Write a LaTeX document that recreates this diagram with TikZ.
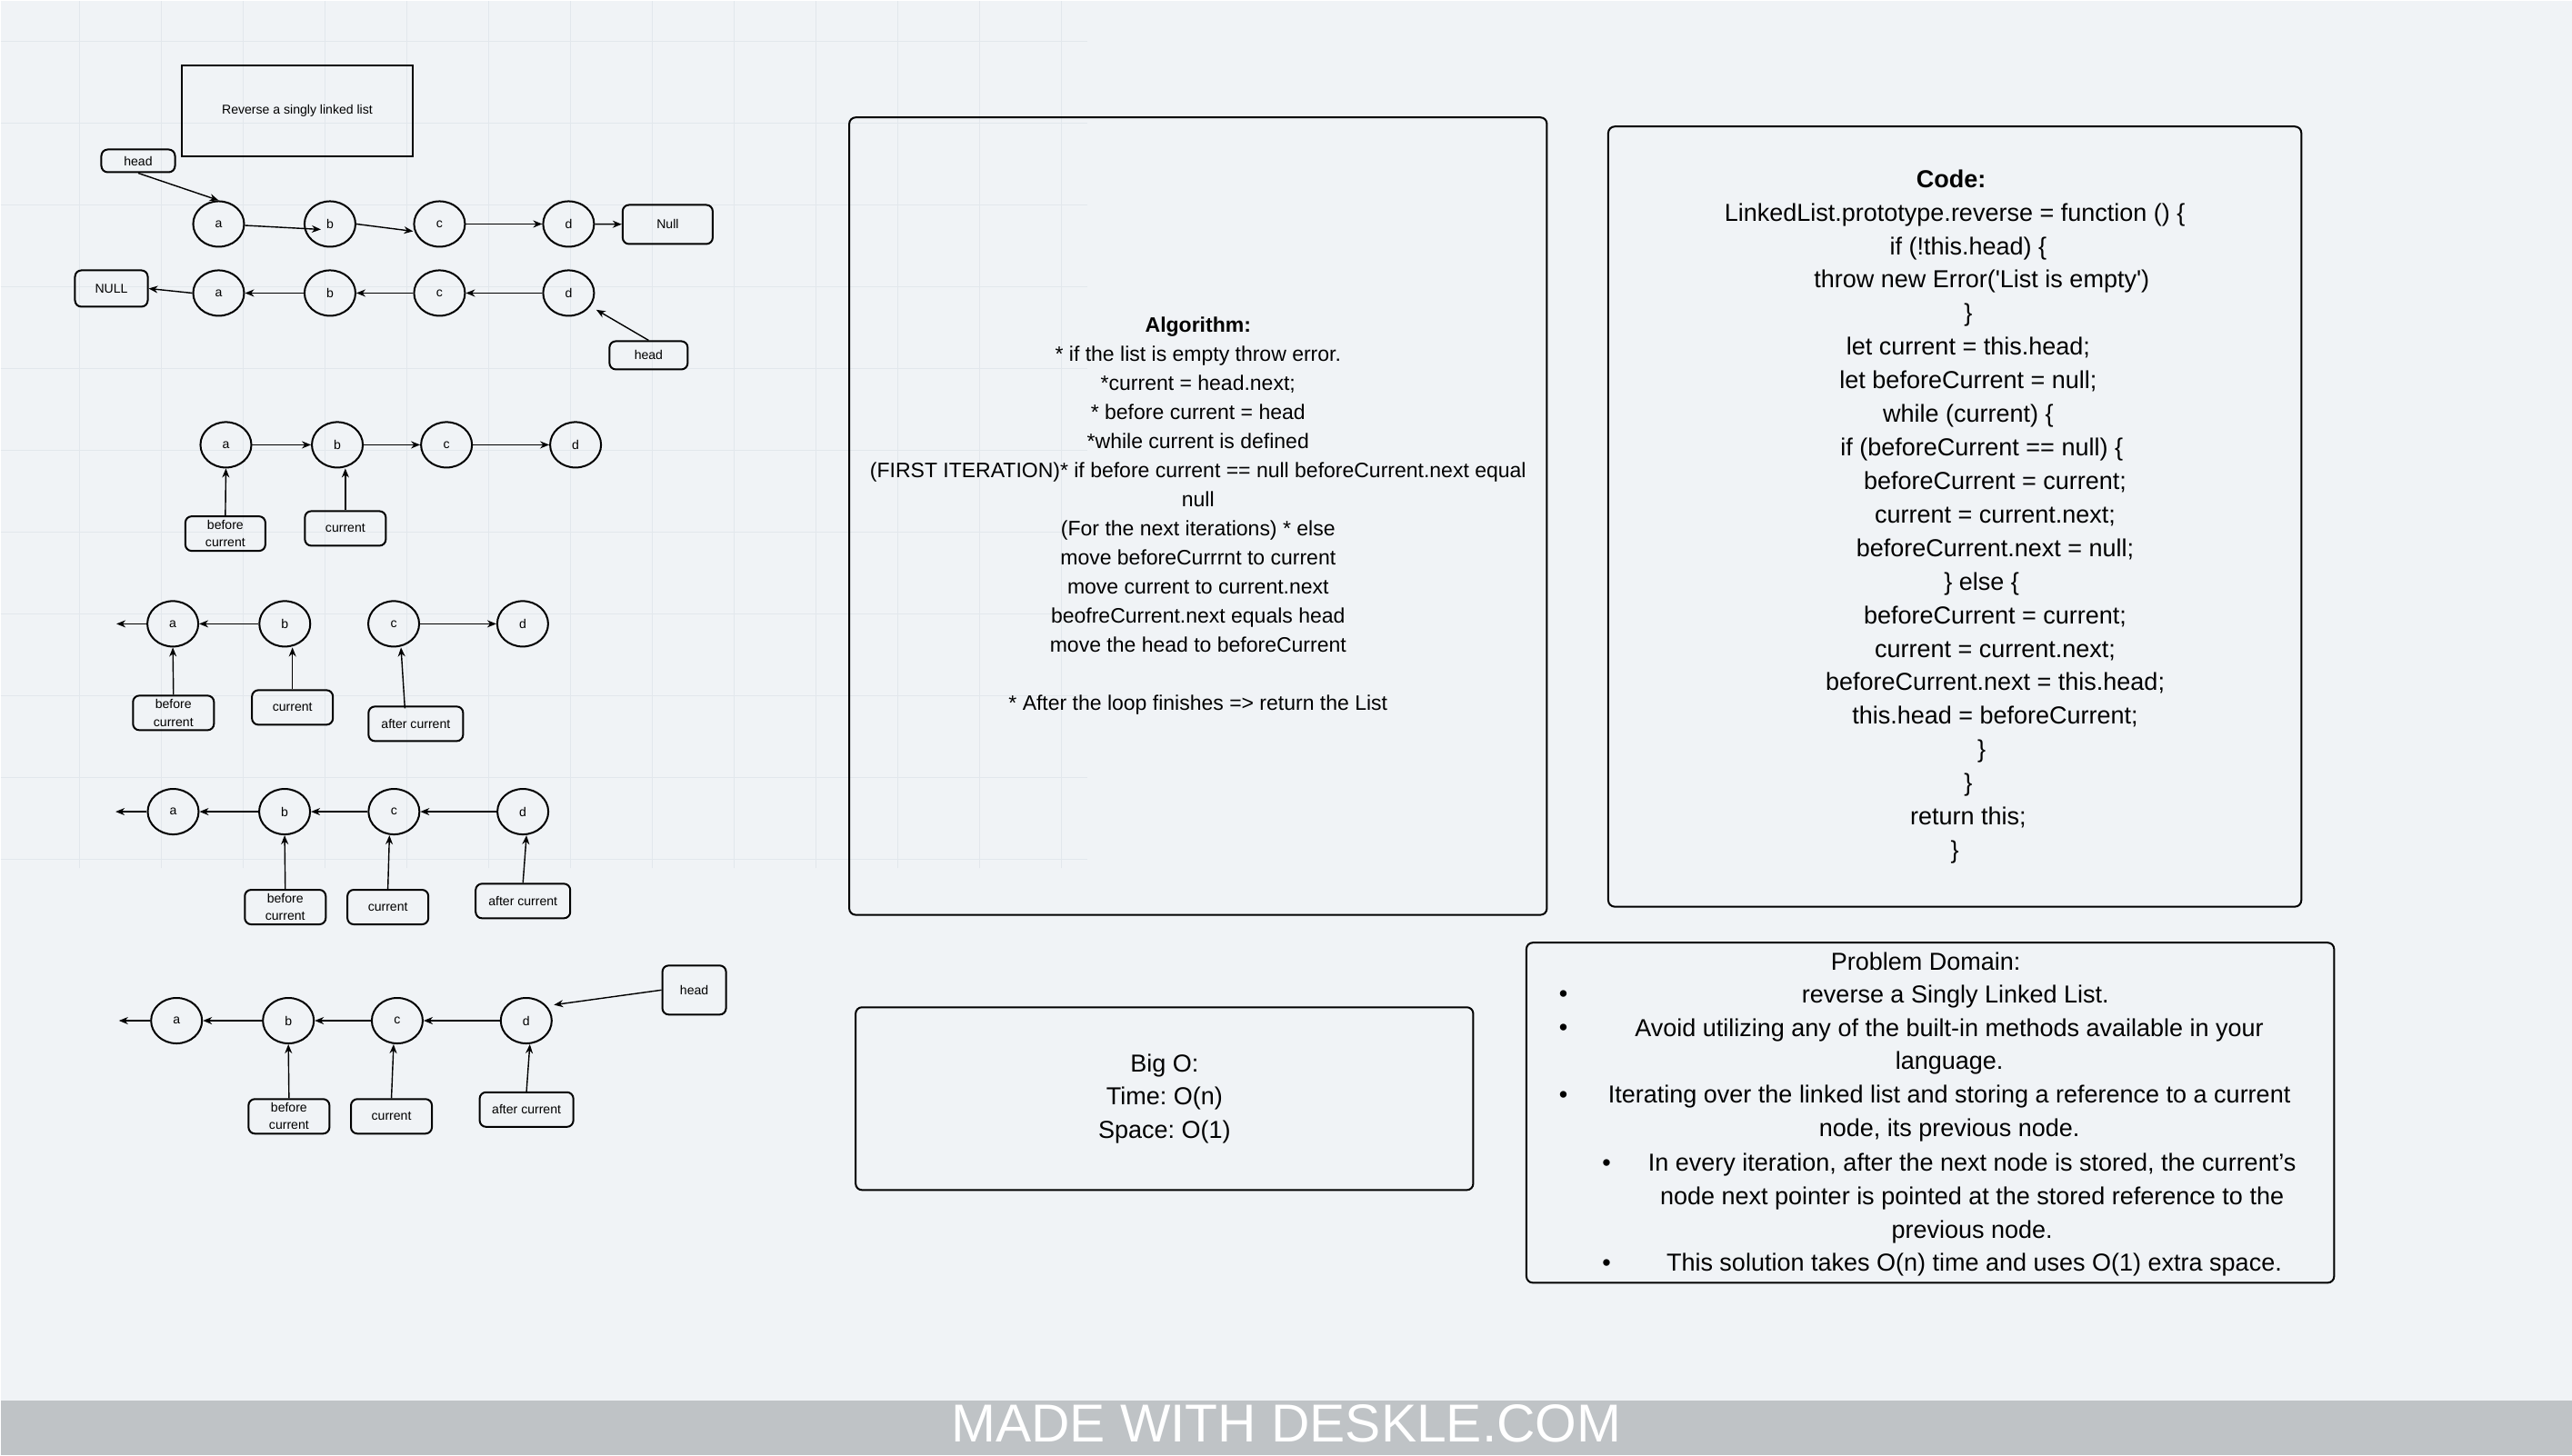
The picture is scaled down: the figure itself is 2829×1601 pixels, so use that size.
\documentclass[tikz,border=0pt]{standalone}
\usepackage{fontspec}
\setmainfont{Liberation Sans}
\setmonofont{Liberation Sans}
\usetikzlibrary{arrows.meta,shapes.geometric,calc}
\frenchspacing

\definecolor{paper}{RGB}{240,243,246}
\definecolor{gridline}{RGB}{226,231,236}
\definecolor{banner}{RGB}{191,195,198}
\newcommand\codeind[1]{\hspace*{#1\dimexpr 0.296cm\relax}}

\begin{document}
\begin{tikzpicture}[x=0.01cm,y=-0.01cm,
  listnode/.style={ellipse,draw,line width=0.57pt,minimum width=0.56cm,minimum height=0.5cm,inner sep=0pt,font=\fontsize{4pt}{5pt}\selectfont},
  ptr/.style={draw,rounded corners=0.07cm,line width=0.57pt,inner sep=0pt,align=center,minimum width=0.89cm,minimum height=0.38cm,font=\fontsize{4pt}{5.5pt}\selectfont},
  link/.style={line width=0.4pt,-{Stealth[length=0.1cm,width=0.08cm]}},
  panel/.style={draw,rounded corners=0.07cm,line width=0.57pt,inner sep=0pt,align=center},
  domtext/.style={align=center,inner sep=0pt,font=\fontsize{7.68pt}{10.45pt}\selectfont}]

% background and grid
\fill[paper] (0,0) rectangle (2829,1601);
\draw[gridline,line width=0.3pt,step=0.9cm,shift={(86.7,45)}] (-86.7,-45) grid (1109,910);
\fill[banner] (0,1541) rectangle (2829,1601);
\node[text=white,anchor=base,font=\fontsize{16.7pt}{20pt}\selectfont] (brand) at (1414.5,1586) {MADE WITH DESKLE.COM};

\node[draw,line width=0.57pt,minimum width=2.53cm,minimum height=0.99cm,font=\fontsize{4pt}{5pt}\selectfont] (title) at (326.5,121.5) {Reverse a singly linked list};

% original list
\node[ptr,minimum width=0.81cm,minimum height=0.25cm] (head1) at (151.5,176.5) {head};
\node[listnode] (a1) at (240,246) {a};
\node[listnode] (b1) at (362.5,246) {b};
\node[listnode] (c1) at (483,246) {c};
\node[listnode] (d1) at (625,246) {d};
\node[ptr,minimum width=0.99cm,minimum height=0.43cm] (nul1) at (734,246.5) {Null};

\draw[link] (head1.south) -- (a1.north);
\draw[link] (a1) -- ($(b1)+(-10,6)$);
\draw[link] (b1.east) -- ($(c1.west)+(0,8)$);
\draw[link] (c1) -- (d1);
\draw[link] (d1) -- (nul1);

% reversed list
\node[ptr,minimum width=0.8cm,minimum height=0.4cm] (nul2) at (122,317) {NULL};
\node[listnode] (a2) at (240,322) {a};
\node[listnode] (b2) at (362.5,322) {b};
\node[listnode] (c2) at (483,322) {c};
\node[listnode] (d2) at (625,322) {d};
\node[ptr,minimum width=0.86cm,minimum height=0.31cm] (head2) at (713,390.5) {head};

\draw[link] (d2) -- (c2);
\draw[link] (c2) -- (b2);
\draw[link] (b2) -- (a2);
\draw[link] (a2.west) -- (nul2.east);
\draw[link] (head2.north) -- ($(d2.south east)+(10,0)$);

% step 1
\node[listnode] (a3) at (248,489) {a};
\node[listnode] (b3) at (370.6,489) {b};
\node[listnode] (c3) at (490.7,489) {c};
\node[listnode] (d3) at (632.7,489) {d};
\node[ptr,minimum width=0.88cm] (bc3) at (247.4,586.7) {before\\current};
\node[ptr] (cur3) at (379.4,581) {current};

\draw[link] (a3) -- (b3);
\draw[link] (b3) -- (c3);
\draw[link] (c3) -- (d3);
\draw[link] (bc3.north) -- (a3.south);
\draw[link] (cur3.north) -- (cur3.north |- b3.south);

% step 2
\coordinate (end4) at (127.6,686);
\node[listnode] (a4) at (189.6,686) {a};
\node[listnode] (b4) at (312.8,686) {b};
\node[listnode] (c4) at (432.6,686) {c};
\node[listnode] (d4) at (574.5,686) {d};
\node[ptr] (bc4) at (190.3,784) {before\\current};
\node[ptr] (cur4) at (321.2,778) {current};
\node[ptr,minimum width=1.04cm] (ac4) at (456.9,796) {after current};

\draw[link] (b4) -- (a4);
\draw[link] (a4.west) -- (end4);
\draw[link] (c4) -- (d4);
\draw[link] (bc4.north) -- (a4.south);
\draw[link] (cur4.north) -- (cur4.north |- b4.south);
\draw[link] ($(ac4.north)+(-12,3)$) -- ($(c4.south)+(8,0)$);

% step 3
\coordinate (end5) at (126.6,892.7);
\node[listnode] (a5) at (190,892.7) {a};
\node[listnode] (b5) at (312.6,892.7) {b};
\node[listnode] (c5) at (432.9,892.7) {c};
\node[listnode] (d5) at (574.7,892.7) {d};
\node[ptr] (bc5) at (313.3,997.7) {before\\current};
\node[ptr] (cur5) at (426.2,997.7) {current};
\node[ptr,minimum width=1.04cm] (ac5) at (574.8,991) {after current};

\draw[link] (d5) -- (c5);
\draw[link] (c5) -- (b5);
\draw[link] (b5) -- (a5);
\draw[link] (a5.west) -- (end5);
\draw[link] (bc5.north) -- (b5.south);
\draw[link] (cur5.north) -- ($(c5.south)+(-5,0)$);
\draw[link] (ac5.north) -- ($(d5.south)+(4,0)$);

% last step
\coordinate (end6) at (130.3,1122.7);
\node[listnode] (a6) at (193.7,1122.7) {a};
\node[listnode] (b6) at (316.7,1122.7) {b};
\node[listnode] (c6) at (436.5,1122.7) {c};
\node[listnode] (d6) at (578.4,1122.7) {d};
\node[ptr] (bc6) at (317.4,1228) {before\\current};
\node[ptr] (cur6) at (430.1,1228) {current};
\node[ptr,minimum width=1.03cm] (ac6) at (578.7,1220.5) {after current};
\node[ptr,minimum width=0.7cm,minimum height=0.54cm] (head6) at (763.2,1089) {head};

\draw[link] (d6) -- (c6);
\draw[link] (c6) -- (b6);
\draw[link] (b6) -- (a6);
\draw[link] (a6.west) -- (end6);
\draw[link] (bc6.north) -- (b6.south);
\draw[link] (cur6.north) -- ($(c6.south)+(-4,0)$);
\draw[link] (ac6.north) -- ($(d6.south)+(4,0)$);
\draw[link] (head6.west) -- ($(d6.north east)+(10,1)$);

% text panels
\node[panel,minimum width=7.67cm,minimum height=8.77cm,font=\fontsize{6.54pt}{9.1pt}\selectfont] (algo) at (1317.5,567.5)
  {\textbf{Algorithm:}\\
   * if the list is empty throw error.\\
   *current = head.next;\\
   * before current = head\\
   *while current is defined\\
   (FIRST ITERATION)* if before current == null beforeCurrent.next equal\\
   null\\
   (For the next iterations) * else\\
   move beforeCurrrnt to current\\
   move current to current.next\\
   beofreCurrent.next equals head\\
   move the head to beforeCurrent\\[9.1pt]
   * After the loop finishes => return the List};

\node[panel,minimum width=7.62cm,minimum height=8.58cm,font=\ttfamily\fontsize{7.68pt}{10.5pt}\selectfont] (code) at (2150,568)
  {\hspace*{-0.08cm}\textbf{Code:}\\
   LinkedList.prototype.reverse = function () \{\\
   \codeind{1}if (!this.head) \{\\
   \codeind{2}throw new Error('List is empty')\\
   \codeind{1}\}\\
   \codeind{1}let current = this.head;\\
   \codeind{1}let beforeCurrent = null;\\
   \codeind{1}while (current) \{\\
   \codeind{2}if (beforeCurrent == null) \{\\
   \codeind{3}beforeCurrent = current;\\
   \codeind{3}current = current.next;\\
   \codeind{3}beforeCurrent.next = null;\\
   \codeind{2}\} else \{\\
   \codeind{3}beforeCurrent = current;\\
   \codeind{3}current = current.next;\\
   \codeind{3}beforeCurrent.next = this.head;\\
   \codeind{3}this.head = beforeCurrent;\\
   \codeind{2}\}\\
   \codeind{1}\}\\
   \codeind{1}return this;\\
   \}};

\node[panel,minimum width=6.79cm,minimum height=2.01cm,font=\fontsize{7.68pt}{10.45pt}\selectfont] (bigo) at (1280.5,1208.5)
  {Big O:\\Time: O(n)\\Space: O(1)};

\node[panel,minimum width=8.88cm,minimum height=3.74cm] (domain) at (2123,1224) {};
\node[domtext] (dtitle) at (2118,1058) {Problem Domain:};
\node[domtext] (bul1) at (1719.3,1096) {•};
\node[domtext] (item1) at (2150.7,1096) {reverse a Singly Linked List.};
\node[domtext] (bul2) at (1719.3,1132.7) {•};
\node[domtext] (item2) at (2144,1151.3) {Avoid utilizing any of the built-in methods available in your\\language.};
\node[domtext] (bul3) at (1719.3,1206.7) {•};
\node[domtext] (item3) at (2144,1225) {Iterating over the linked list and storing a reference to a current\\node, its previous node.};
\node[domtext] (bul4) at (1767,1281.7) {•};
\node[domtext] (item4) at (2169,1318) {In every iteration, after the next node is stored, the current’s\\node next pointer is pointed at the stored reference to the\\previous node.};
\node[domtext] (bul5) at (1767,1391.7) {•};
\node[domtext] (item5) at (2171.3,1391.7) {This solution takes O(n) time and uses O(1) extra space.};
\end{tikzpicture}
\end{document}
